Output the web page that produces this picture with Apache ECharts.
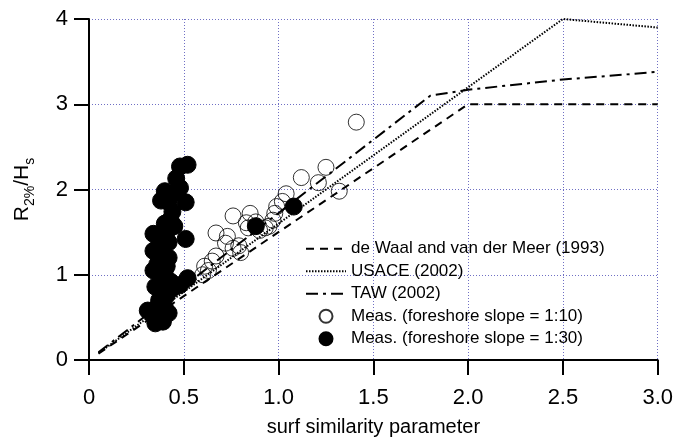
<!DOCTYPE html>
<html>
<head>
<meta charset="utf-8">
<script src="https://cdn.jsdelivr.net/npm/echarts@6/dist/echarts.min.js"></script>
<style>html,body{margin:0;padding:0;background:#fff}#c{width:676px;height:442px}</style>
</head>
<body>
<div id="c"></div>
<script>
var xTickLabels = ['0','0.5','1.0','1.5','2.0','2.5','3.0'];
var yTickLabels = ['0','1','2','3','4'];
var seriesNames = ['de Waal and van der Meer (1993)','USACE (2002)','TAW (2002)','Meas. (foreshore slope = 1:10)','Meas. (foreshore slope = 1:30)'];
var deWaal = [[0.05,0.075],[2.0,3.0],[3.0,3.0]];
var usace = [[0.05,0.08],[2.5,4.0],[3.0,3.9]];
var taw = [[0.05,0.09],[1.8,3.1],[2.0,3.17],[2.5,3.29],[3.0,3.38]];
var meas10 = [[1.41,2.79],[1.25,2.26],[1.12,2.14],[1.21,2.08],[1.32,1.98],[1.04,1.95],[1.02,1.86],[0.99,1.80],[0.98,1.72],[0.97,1.64],[0.95,1.57],[0.76,1.69],[0.85,1.72],[0.83,1.61],[0.84,1.55],[0.93,1.55],[0.67,1.49],[0.73,1.45],[0.72,1.37],[0.76,1.31],[0.79,1.34],[0.80,1.26],[0.67,1.22],[0.65,1.16],[0.61,1.10],[0.63,1.05],[0.60,1.00],[0.88,1.62],[0.90,1.52]];
var meas30 = [[0.52,2.29],[0.48,2.27],[0.46,2.13],[0.48,2.02],[0.40,1.98],[0.38,1.87],[0.51,1.85],[0.44,1.74],[0.43,1.65],[0.45,1.57],[0.41,1.50],[0.34,1.48],[0.51,1.42],[0.42,1.38],[0.34,1.28],[0.39,1.27],[0.42,1.20],[0.36,1.12],[0.34,1.05],[0.41,1.10],[0.38,0.98],[0.35,0.86],[0.43,0.92],[0.52,0.96],[0.48,0.88],[0.38,0.80],[0.41,0.76],[0.37,0.70],[0.44,0.84],[0.31,0.58],[0.34,0.52],[0.35,0.43],[0.38,0.52],[0.40,0.62],[0.36,0.62],[0.88,1.57],[1.08,1.80],[0.37,1.40],[0.40,1.60],[0.39,1.35],[0.37,1.20],[0.40,1.05],[0.39,0.90],[0.42,1.85],[0.44,1.95],[0.42,0.55],[0.39,0.45]];

var chart = echarts.init(document.getElementById('c'), null, {renderer:'canvas'});
var font = 'Liberation Sans, Arial, sans-serif';
var gridLine = {show:true, lineStyle:{color:'#6f6fc4', width:1, type:[1,2]}};
var hiddenSym = {color:'rgba(0,0,0,0)', borderColor:'rgba(0,0,0,0)', borderWidth:0, opacity:0};
chart.setOption({
  animation:false,
  backgroundColor:'#fff',
  grid:{left:89, right:17, top:19, bottom:79},
  legend:{
    orient:'vertical', left:300, top:233, itemWidth:40, itemHeight:13, itemGap:1,
    textStyle:{fontFamily:font, fontSize:17, color:'#000', lineHeight:21.5},
    data:[
      {name:seriesNames[0], itemStyle:hiddenSym},
      {name:seriesNames[1], itemStyle:hiddenSym},
      {name:seriesNames[2], itemStyle:hiddenSym},
      {name:seriesNames[3]},
      {name:seriesNames[4]}
    ]
  },
  xAxis:{
    type:'value', min:0, max:3, interval:0.5,
    axisLine:{show:true, onZero:false, lineStyle:{color:'#000', width:2}},
    axisTick:{show:true, length:15, inside:false, lineStyle:{color:'#000', width:2}},
    axisLabel:{fontFamily:font, fontSize:22, color:'#000', margin:27,
      formatter:function(v){ return xTickLabels[Math.round(v/0.5)]; }},
    splitLine:gridLine,
    name:'surf similarity parameter', nameLocation:'middle', nameGap:57,
    nameTextStyle:{fontFamily:font, fontSize:20, color:'#000'}
  },
  yAxis:{
    type:'value', min:0, max:4, interval:1,
    axisLine:{show:true, onZero:false, lineStyle:{color:'#000', width:2}},
    axisTick:{show:true, length:15, lineStyle:{color:'#000', width:2}},
    axisLabel:{fontFamily:font, fontSize:22, color:'#000', margin:21,
      formatter:function(v){ return yTickLabels[Math.round(v)]; }},
    splitLine:gridLine,
    name:'{a|R}{b|2%}{a|/H}{b|s}', nameLocation:'middle', nameGap:52, nameRotate:90,
    nameTextStyle:{fontFamily:font, color:'#000',
      rich:{a:{fontFamily:font, fontSize:21, lineHeight:30, color:'#000'},
            b:{fontFamily:font, fontSize:14, lineHeight:14, verticalAlign:'bottom', color:'#000'}}}
  },
  series:[
    {name:seriesNames[0], type:'line', data:deWaal, symbol:'none', z:2,
     itemStyle:{color:'#000'}, lineStyle:{color:'#000', width:2, type:[8,6]}},
    {name:seriesNames[1], type:'line', data:usace, symbol:'none', z:2,
     itemStyle:{color:'#000'}, lineStyle:{color:'#000', width:2, type:[1.5,1.5]}},
    {name:seriesNames[2], type:'line', data:taw, symbol:'none', z:2,
     itemStyle:{color:'#000'}, lineStyle:{color:'#000', width:2, type:[12,5,3,5]}},
    {name:seriesNames[3], type:'scatter', data:meas10, symbol:'circle', symbolSize:16, z:3,
     itemStyle:{color:'rgba(255,255,255,0)', borderColor:'#000', borderWidth:1}},
    {name:seriesNames[4], type:'scatter', data:meas30, symbol:'circle', symbolSize:17, z:4,
     itemStyle:{color:'#000', borderColor:'#000', borderWidth:1, opacity:1}}
  ]
});
</script>
</body>
</html>
